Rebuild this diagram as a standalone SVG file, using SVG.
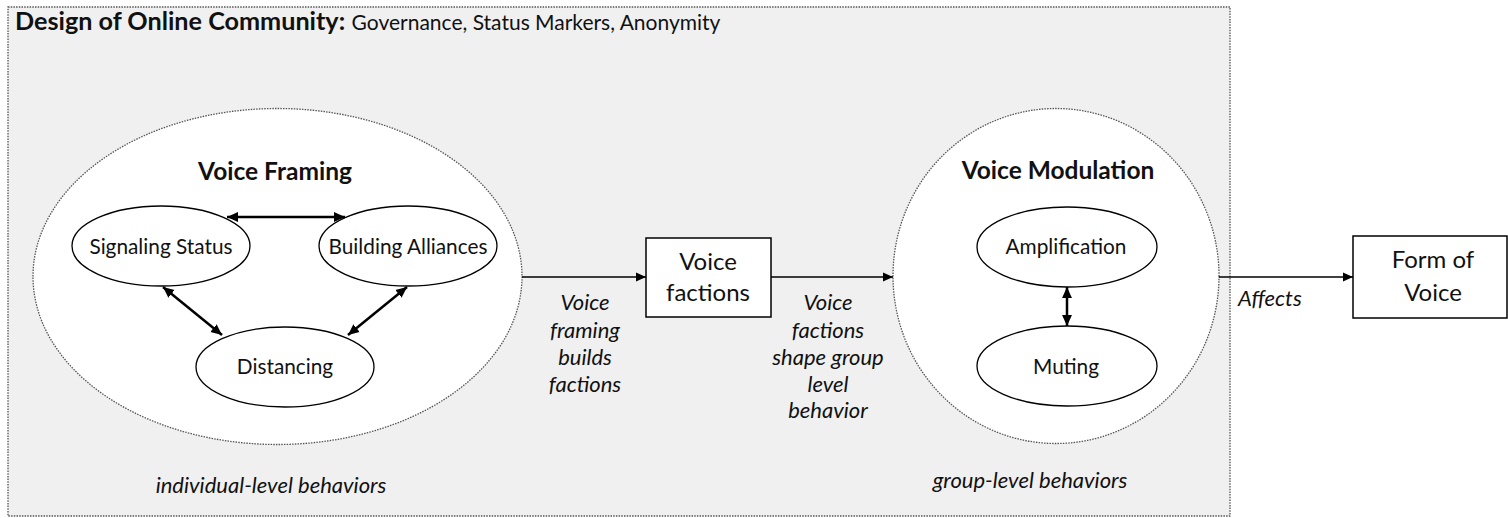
<svg xmlns="http://www.w3.org/2000/svg" width="1508" height="518" viewBox="0 0 1508 518">
  <defs>
    <marker id="head" viewBox="0 0 10 10" refX="10" refY="5" markerWidth="10" markerHeight="10" markerUnits="userSpaceOnUse" orient="auto-start-reverse">
      <path d="M0,0.5 L10,5 L0,9.5 Z" fill="#000"/>
    </marker>
    <marker id="headBold" viewBox="0 0 10 10" refX="10" refY="5" markerWidth="11" markerHeight="11" markerUnits="userSpaceOnUse" orient="auto-start-reverse">
      <path d="M0,0.5 L10,5 L0,9.5 Z" fill="#000"/>
    </marker>
  </defs>
  <style>
    text { font-family: Lato, "Open Sans", sans-serif; fill: #111; }
    .dotted { fill: #ffffff; stroke: #555; stroke-width: 1.3; stroke-dasharray: 1.5 1.2; }
    .oval { fill: #ffffff; stroke: #000; stroke-width: 1.3; }
    .box { fill: #ffffff; stroke: #000; stroke-width: 1.5; }
    .head { font-size: 24.5px; font-weight: bold; text-anchor: middle; }
    .node { font-size: 20.8px; text-anchor: middle; }
    .big { font-size: 24px; text-anchor: middle; }
    .note { font-size: 22px; font-style: italic; text-anchor: middle; }
    .link { stroke: #000; stroke-width: 1.5; fill: none; }
    .pair { stroke: #000; stroke-width: 2.5; fill: none; }
  </style>

  <!-- community frame -->
  <g id="community">
    <rect x="8" y="7" width="1222" height="509" fill="#f0f0f0" stroke="#555" stroke-width="1.3" stroke-dasharray="1.5 1.2"/>
    <text x="15" y="30" style="font-size:25.2px"><tspan font-weight="bold">Design of Online Community:</tspan> <tspan style="font-size:21px">Governance, Status Markers, Anonymity</tspan></text>
    <text class="note" x="271" y="493">individual-level behaviors</text>
    <text class="note" x="1030" y="488">group-level behaviors</text>
  </g>

  <!-- voice framing cluster -->
  <g id="voice-framing">
    <ellipse class="dotted" cx="277.5" cy="276.5" rx="244.5" ry="168"/>
    <text class="head" x="275" y="180">Voice Framing</text>
  </g>
  <g id="signaling-status">
    <ellipse class="oval" cx="161" cy="246" rx="89" ry="40"/>
    <text class="node" x="161" y="254">Signaling Status</text>
  </g>
  <g id="building-alliances">
    <ellipse class="oval" cx="408" cy="246" rx="89" ry="40"/>
    <text class="node" x="408" y="254">Building Alliances</text>
  </g>
  <g id="distancing">
    <ellipse class="oval" cx="285" cy="367" rx="89" ry="40"/>
    <text class="node" x="285" y="374">Distancing</text>
  </g>

  <!-- voice factions -->
  <g id="voice-factions">
    <rect class="box" x="646" y="238" width="125" height="79"/>
    <text class="big" x="708" y="270">Voice</text>
    <text class="big" x="708" y="301">factions</text>
  </g>

  <!-- voice modulation cluster -->
  <g id="voice-modulation">
    <ellipse class="dotted" cx="1056" cy="276" rx="163" ry="167.5"/>
    <text class="head" x="1058" y="179">Voice Modulation</text>
  </g>
  <g id="amplification">
    <ellipse class="oval" cx="1067" cy="247" rx="90" ry="40"/>
    <text class="node" x="1066" y="254">Amplification</text>
  </g>
  <g id="muting">
    <ellipse class="oval" cx="1067" cy="366" rx="90" ry="40"/>
    <text class="node" x="1066" y="374">Muting</text>
  </g>

  <!-- outcome -->
  <g id="form-of-voice">
    <rect class="box" x="1353" y="236" width="154" height="82"/>
    <text class="big" x="1433" y="268">Form of</text>
    <text class="big" x="1433" y="301">Voice</text>
  </g>

  <!-- connectors -->
  <g id="connectors">
    <line class="pair" x1="227" y1="217" x2="345" y2="217" marker-start="url(#headBold)" marker-end="url(#headBold)"/>
    <line class="pair" x1="163" y1="287" x2="222" y2="335" marker-start="url(#headBold)" marker-end="url(#headBold)"/>
    <line class="pair" x1="407" y1="287" x2="348" y2="335" marker-start="url(#headBold)" marker-end="url(#headBold)"/>
    <line class="pair" x1="1067" y1="287" x2="1067" y2="326" marker-start="url(#headBold)" marker-end="url(#headBold)"/>

    <line class="link" x1="522" y1="277" x2="646" y2="277" marker-end="url(#head)"/>
    <line class="link" x1="771" y1="277" x2="893" y2="277" marker-end="url(#head)"/>
    <line class="link" x1="1219" y1="277" x2="1353" y2="277" marker-end="url(#head)"/>

    <text class="note" x="585" y="310">Voice</text>
    <text class="note" x="585" y="338">framing</text>
    <text class="note" x="585" y="365">builds</text>
    <text class="note" x="585" y="392">factions</text>

    <text class="note" x="828" y="310">Voice</text>
    <text class="note" x="828" y="338">factions</text>
    <text class="note" x="828" y="365">shape group</text>
    <text class="note" x="828" y="392">level</text>
    <text class="note" x="828" y="418">behavior</text>

    <text class="note" x="1238" y="306" style="text-anchor:start">Affects</text>
  </g>
</svg>
